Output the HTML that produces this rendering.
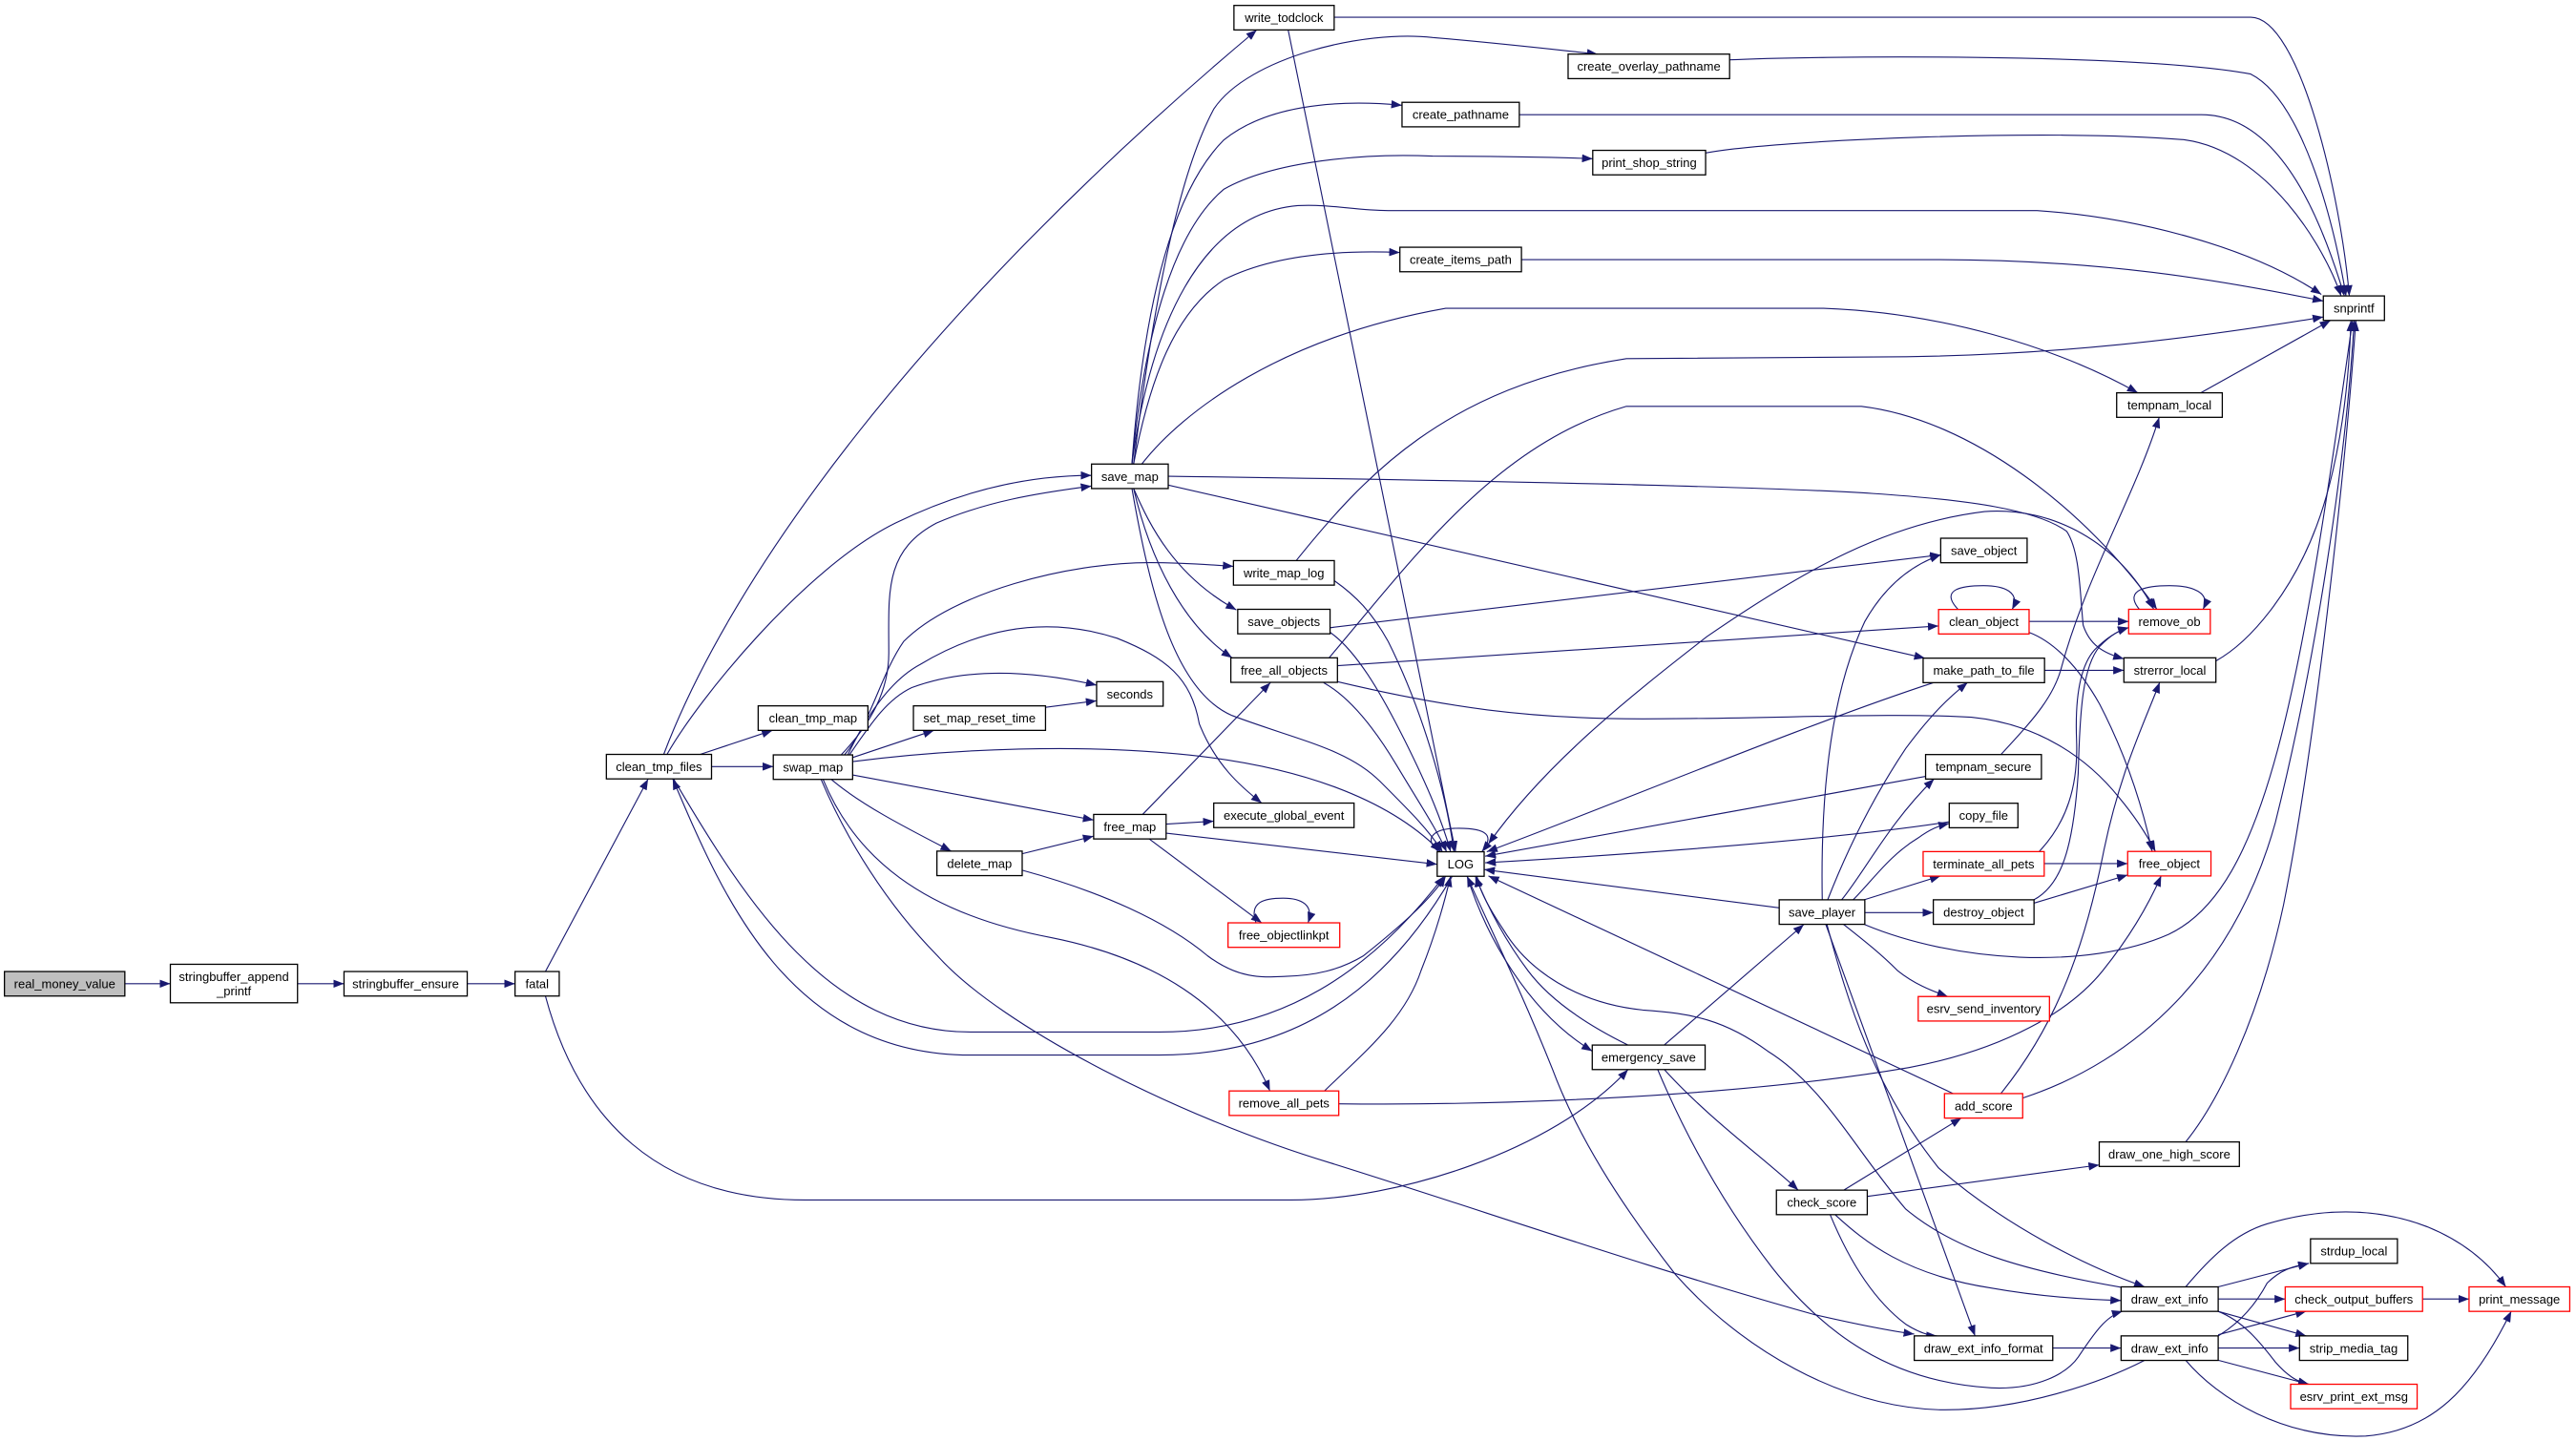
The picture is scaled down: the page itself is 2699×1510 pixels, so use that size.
<!DOCTYPE html>
<html><head><meta charset="utf-8"><style>
html,body{margin:0;padding:0;background:#fff;}
svg{display:block;}
.e{fill:none;stroke:#191970;stroke-width:0.65;}
.n rect{fill:#fff;stroke:#000;stroke-width:0.75;}
.n.r rect{stroke:#ff0000;}
.n.g rect{fill:#bfbfbf;}
text{font-family:"Liberation Sans",Arial,sans-serif;font-size:7.55px;fill:#000;text-anchor:middle;}
</style></head><body>
<svg width="2699" height="1510" viewBox="0 0 1568 876" preserveAspectRatio="none" xmlns="http://www.w3.org/2000/svg">
<defs>
<marker id="a" markerWidth="6.5" markerHeight="5" refX="6.5" refY="2.5" orient="auto-start-reverse" markerUnits="userSpaceOnUse" viewBox="0 0 6.5 5"><path d="M0,0 L6.5,2.5 L0,5 z" fill="#191970"/></marker>
</defs>
<g class="edges" marker-end="url(#a)">
<path class="e" marker-end="url(#a)" d="M76,598 L103.7,598"/>
<path class="e" marker-end="url(#a)" d="M181.1,598 L209.4,598"/>
<path class="e" marker-end="url(#a)" d="M284.4,598 L313.5,598"/>
<path class="e" marker-end="url(#a)" d="M332,590.6 L394.5,473.6"/>
<path class="e" marker-end="url(#a)" d="M332,605.5 C352,680 400,729.5 490,729.5 L786,729.5 C850,729.5 945,700 991,650.2"/>
<path class="e" marker-end="url(#a)" d="M426.2,458.6 L470.2,444"/>
<path class="e" marker-end="url(#a)" d="M433.1,466 L470.7,466"/>
<path class="e" marker-end="url(#a)" d="M404,458.6 C445,350 560,190 765,18.2"/>
<path class="e" marker-end="url(#a)" d="M406,458.6 C425,425 490,345 545,318 C590,296 630,289 664.4,289"/>
<path class="e" marker-end="url(#a)" d="M410,473.5 C455,550 505,627.4 591,627.4 L705.5,627.4 C780,627.4 835,590 879,532.6"/>
<path class="e" marker-end="url(#a)" d="M884,532.6 C845,600 790,641.4 705.5,641.4 L591,641.4 C480,641.4 440,545 409.5,473.5"/>
<path class="e" marker-end="url(#a)" d="M512,458.9 C530,440 541,420 541,397 C541,360 538,335 570,318 C600,305 630,300 664.4,295.5"/>
<path class="e" marker-end="url(#a)" d="M514,458.9 C530,440 536,410 550,390 C580,360 650,342 700,342 C720,342 740,343.5 750.8,344.3"/>
<path class="e" marker-end="url(#a)" d="M516,458.9 C530,430 545,412 560,404 C600,380 640,375 680,388 C710,400 725,412 730,440 C740,465 755,478 768,488.2"/>
<path class="e" marker-end="url(#a)" d="M517,458.9 C530,440 540,425 555,418 C590,405 630,408 667.5,416.5"/>
<path class="e" marker-end="url(#a)" d="M519,460.5 L568.5,444"/>
<path class="e" marker-end="url(#a)" d="M636.4,430 L667.5,426"/>
<path class="e" marker-end="url(#a)" d="M519,463 C580,455 660,452 724,459 C790,466 845,485 877,517.8"/>
<path class="e" marker-end="url(#a)" d="M519,471.1 L665.7,498.5"/>
<path class="e" marker-end="url(#a)" d="M506,473.8 C525,490 555,505 579,517.4"/>
<path class="e" marker-end="url(#a)" d="M501,473.8 C520,520 560,555 640,570 C700,582 750,610 773,663.2"/>
<path class="e" marker-end="url(#a)" d="M499.8,473.8 C515,510 540,550 570.6,581 C610,625 720,680 810,707 C900,735 1000,770 1103.8,799 C1130,805 1150,809 1165.2,811"/>
<path class="e" marker-end="url(#a)" d="M690,282.1 C700,200 715,110 739,66 C760,35 830,18 872,22.8 C910,26 945,30 972.5,32.9"/>
<path class="e" marker-end="url(#a)" d="M689,282.1 C695,200 710,120 745,85 C770,65 810,60 853.4,64"/>
<path class="e" marker-end="url(#a)" d="M689,282.1 C697,200 715,140 745,115 C775,98 830,93 872,94.9 C910,95 945,95.5 969.5,96.5"/>
<path class="e" marker-end="url(#a)" d="M689,282.1 C700,200 730,130 790,125 C810,124 825,128 845,128 L1240,128 C1300,132 1370,150 1413,179"/>
<path class="e" marker-end="url(#a)" d="M690,282.1 C700,230 715,190 745,170 C775,155 815,152 852.1,153.5"/>
<path class="e" marker-end="url(#a)" d="M695,282.1 C720,250 780,205 880,187.4 L1110,187.4 C1180,190 1250,210 1301.3,238.8"/>
<path class="e" marker-end="url(#a)" d="M711.1,289.5 C900,292 1080,296 1140,300 C1200,304 1240,310 1258,323 C1266,335 1266,360 1268,380 C1272,392 1280,397 1292.8,400.5"/>
<path class="e" marker-end="url(#a)" d="M690,296.9 C700,320 715,350 752.6,370.8"/>
<path class="e" marker-end="url(#a)" d="M690,296.9 C700,340 720,380 750,399.9"/>
<path class="e" marker-end="url(#a)" d="M689,296.9 C700,360 715,420 750,435 C790,450 820,455 840,475 C860,495 870,505 878,517.8"/>
<path class="e" marker-end="url(#a)" d="M711.1,294.9 L1171.7,400.1"/>
<path class="e" marker-end="url(#a)" d="M812.1,10.5 L1370,10.5 C1400,10.5 1425,120 1430,179.9"/>
<path class="e" marker-end="url(#a)" d="M784.1,18.2 L886,517.8"/>
<path class="e" marker-end="url(#a)" d="M1052.8,36.4 C1100,34 1300,32 1370,45 C1400,60 1420,130 1428,179.9"/>
<path class="e" marker-end="url(#a)" d="M924.8,69.7 L1340,69.7 C1390,69.7 1415,140 1427,179.9"/>
<path class="e" marker-end="url(#a)" d="M1038.2,93 C1080,85 1250,78 1330,85 C1380,92 1415,150 1425,179.9"/>
<path class="e" marker-end="url(#a)" d="M926.1,157.8 L1180,157.8 C1280,158 1350,170 1414.2,183"/>
<path class="e" marker-end="url(#a)" d="M789,340.8 C830,290 880,235 990,218 L1140,217 C1250,217 1340,205 1414.2,192.7"/>
<path class="e" marker-end="url(#a)" d="M1339.6,238.8 L1418.6,194.8"/>
<path class="e" marker-end="url(#a)" d="M1348.8,401.8 C1370,390 1395,360 1410,320 C1425,280 1430,230 1431,194.8"/>
<path class="e" marker-end="url(#a)" d="M1231.2,667.5 C1300,645 1360,590 1385,500 C1410,400 1428,280 1433,194.8"/>
<path class="e" marker-end="url(#a)" d="M1330.4,694.2 C1350,670 1375,620 1390,550 C1410,450 1428,280 1434,194.8"/>
<path class="e" marker-end="url(#a)" d="M1134.9,562 C1190,585 1270,590 1320,568 C1380,540 1400,420 1432,194.8"/>
<path class="e" marker-end="url(#a)" d="M812.2,353 C825,362 835,372 845,390 C865,430 880,480 885,517.8"/>
<path class="e" marker-end="url(#a)" d="M809.6,384.4 C825,395 840,420 855,450 C870,480 878,500 883,517.8"/>
<path class="e" marker-end="url(#a)" d="M805.7,415 C820,423 835,440 850,465 C865,490 875,505 880.5,517.8"/>
<path class="e" marker-end="url(#a)" d="M809.6,381.6 L1181.3,337.3"/>
<path class="e" marker-end="url(#a)" d="M814.1,404.7 L1180,380.5"/>
<path class="e" marker-end="url(#a)" d="M814.1,414.4 C880,430 930,437 1000,437 C1080,437 1150,433 1200,436 C1240,440 1270,460 1290,485 C1300,497 1307,508 1312,517.6"/>
<path class="e" marker-end="url(#a)" d="M809,399.9 C860,340 910,270 990,247 L1133,247 C1200,255 1270,310 1312.9,370.4"/>
<path class="e" marker-end="url(#a)" d="M695.5,495.1 L773.3,415"/>
<path class="e" marker-end="url(#a)" d="M709.8,501 L738.8,499.2"/>
<path class="e" marker-end="url(#a)" d="M709.8,506.5 L874.8,525.4"/>
<path class="e" marker-end="url(#a)" d="M699.5,510 L768,561"/>
<path class="e" marker-end="url(#a)" d="M764.5,561 C760,548 770,546 781,546 C792,546 800,550 796.2,561"/>
<path class="e" marker-end="url(#a)" d="M622.2,519 L665.7,508.3"/>
<path class="e" marker-end="url(#a)" d="M622.2,529 C670,542 710,560 735,581 C755,596 770,594 783,593.5 C800,593 815,590 830,581 C850,565 870,548 880,532.6"/>
<path class="e" marker-end="url(#a)" d="M806.2,663.2 C830,640 855,620 865,590 C875,565 880,545 883,532.6"/>
<path class="e" marker-end="url(#a)" d="M814.9,671 C900,672 1050,668 1162,649 C1220,638 1260,615 1280,590 C1300,565 1310,545 1315.5,532.4"/>
<path class="e" marker-end="url(#a)" d="M1013,635.3 L1098,562"/>
<path class="e" marker-end="url(#a)" d="M893,532.6 C905,570 930,615 969.2,639"/>
<path class="e" marker-end="url(#a)" d="M991,635.3 C970,625 945,610 930,590 C915,570 905,550 898,532.6"/>
<path class="e" marker-end="url(#a)" d="M1013,650.1 C1040,680 1075,705 1094.6,723.5"/>
<path class="e" marker-end="url(#a)" d="M1009,650.1 C1030,700 1055,740 1079,771 C1110,810 1150,840 1212,843.7 C1240,845 1258,835 1265,825 C1275,810 1282,800 1292,797.1"/>
<path class="e" marker-end="url(#a)" d="M1292,782.7 C1230,772 1190,760 1160,735 C1130,700 1110,660 1076,639 C1050,620 1030,616 1000,614 C960,610 930,590 915,565 C905,550 900,540 899,532.6"/>
<path class="e" marker-end="url(#a)" d="M1117,738.4 C1135,755 1160,775 1212,783 C1240,788 1270,790 1291.1,790.6"/>
<path class="e" marker-end="url(#a)" d="M1114,738.4 C1125,765 1140,790 1160,805 C1168,810 1174,812 1179,812.1"/>
<path class="e" marker-end="url(#a)" d="M1122.3,723.5 L1193.9,679.6"/>
<path class="e" marker-end="url(#a)" d="M1136.6,727.3 L1277.8,708.2"/>
<path class="e" marker-end="url(#a)" d="M1217.9,664.8 C1250,625 1268,580 1280,520 C1290,470 1305,440 1314.6,414.8"/>
<path class="e" marker-end="url(#a)" d="M1188.9,664.8 L906,532.5"/>
<path class="e" marker-end="url(#a)" d="M1083,551.9 L903.4,528.6"/>
<path class="e" marker-end="url(#a)" d="M1135.1,554.8 L1176.8,554.8"/>
<path class="e" marker-end="url(#a)" d="M1134.7,547 L1181.2,532.5"/>
<path class="e" marker-end="url(#a)" d="M1122,561.8 C1135,572 1145,580 1155,590 C1165,598 1175,602 1185.6,605.8"/>
<path class="e" marker-end="url(#a)" d="M1111.3,561.8 L1202.2,812.1"/>
<path class="e" marker-end="url(#a)" d="M1112,561.8 C1125,610 1140,660 1180,710 C1220,745 1270,770 1305.5,782.3"/>
<path class="e" marker-end="url(#a)" d="M1109.2,547 C1108,480 1115,420 1135,378 C1148,355 1165,343 1181.3,337.3"/>
<path class="e" marker-end="url(#a)" d="M1112.5,547 C1125,515 1140,485 1160,455 C1175,435 1185,425 1197.7,414.9"/>
<path class="e" marker-end="url(#a)" d="M1121,547 C1135,530 1150,500 1177.3,473.5"/>
<path class="e" marker-end="url(#a)" d="M1128,547 C1140,535 1150,520 1167.7,509.3 C1175,504 1180,502 1186.5,500.6"/>
<path class="e" marker-end="url(#a)" d="M1172.1,472 L904,520.5"/>
<path class="e" marker-end="url(#a)" d="M1218,458.7 C1235,440 1250,425 1255,405 C1270,350 1300,300 1314.3,253.7"/>
<path class="e" marker-end="url(#a)" d="M1186.5,499.6 C1120,510 1000,519 904,524.5"/>
<path class="e" marker-end="url(#a)" d="M1177.2,414.9 C1100,440 980,490 905,517.8"/>
<path class="e" marker-end="url(#a)" d="M1244.5,407.5 L1292.8,407.5"/>
<path class="e" marker-end="url(#a)" d="M1244.3,525 L1295.1,525"/>
<path class="e" marker-end="url(#a)" d="M1241.2,517.7 C1258,500 1265,478 1264,450 C1263,425 1266,405 1275,395 C1282,388 1288,384 1295.7,381.5"/>
<path class="e" marker-end="url(#a)" d="M1238,547 C1255,538 1262,515 1265,470 C1266,430 1268,405 1278,393 C1285,386 1290,383 1295.7,381.5"/>
<path class="e" marker-end="url(#a)" d="M1238.2,549 L1295.1,531.9"/>
<path class="e" marker-end="url(#a)" d="M1235,377.8 L1295.7,377.8"/>
<path class="e" marker-end="url(#a)" d="M1235,384.4 C1250,390 1265,405 1278,428 C1292,455 1303,485 1310,517.6"/>
<path class="e" marker-end="url(#a)" d="M1191.9,370.5 C1180,358 1195,356 1207.3,356 C1220,356 1230,360 1224.8,370.5"/>
<path class="e" marker-end="url(#a)" d="M1302.2,370.4 C1292,358 1308,356 1320.6,356 C1334,356 1346,360 1341,370.4"/>
<path class="e" marker-start="url(#a)" marker-end="url(#a)" d="M906,513 C940,465 990,425 1039,387 C1100,345 1150,318 1208,311 C1250,308 1290,330 1311,370.4"/>
<path class="e" marker-end="url(#a)" d="M876,518 C866,510 872,503.5 888,503.5 C905,503.5 910,508 902,517.8"/>
<path class="e" marker-end="url(#a)" d="M1350.2,782.3 L1405.4,768"/>
<path class="e" marker-end="url(#a)" d="M1350.2,789.7 L1391,789.7"/>
<path class="e" marker-end="url(#a)" d="M1330.4,782.3 C1345,765 1360,750 1380,744 C1410,735 1445,733 1478,746 C1500,755 1515,768 1525.3,782.3"/>
<path class="e" marker-end="url(#a)" d="M1350.2,797.2 L1403.8,812.1"/>
<path class="e" marker-end="url(#a)" d="M1350.2,797.2 C1365,803 1375,815 1385,828 C1392,836 1398,840 1405.4,841.5"/>
<path class="e" marker-end="url(#a)" d="M1350.2,812.1 C1362,805 1372,795 1380,780 C1388,772 1395,770 1405.4,768"/>
<path class="e" marker-end="url(#a)" d="M1350.2,811.4 L1403.8,797.1"/>
<path class="e" marker-end="url(#a)" d="M1350.2,819.5 L1399.7,819.5"/>
<path class="e" marker-end="url(#a)" d="M1350.2,826.9 L1405.4,841.5"/>
<path class="e" marker-end="url(#a)" d="M1330.4,826.9 C1350,850 1390,875 1440,873 C1480,870 1505,845 1528.6,797.1"/>
<path class="e" marker-end="url(#a)" d="M1305.5,826.9 C1280,840 1230,858 1180,857 C1120,855 1060,820 1020,775 C985,730 960,690 945,650 C925,600 905,560 893,532.6"/>
<path class="e" marker-end="url(#a)" d="M1249.5,819.5 L1291.1,819.5"/>
<path class="e" marker-end="url(#a)" d="M1474.6,789.7 L1502.9,789.7"/>
</g>
<g class="nodes">
<g class="n g"><rect x="2.7" y="590.6" width="73.3" height="14.9"/><text x="39.35" y="600.75">real_money_value</text></g>
<g class="n"><rect x="103.7" y="586.2" width="77.4" height="23.4"/><text x="142.4" y="596.3">stringbuffer_append</text><text x="142.4" y="605">_printf</text></g>
<g class="n"><rect x="209.4" y="590.6" width="75" height="14.9"/><text x="246.9" y="600.75">stringbuffer_ensure</text></g>
<g class="n"><rect x="313.5" y="590.6" width="26.9" height="14.9"/><text x="326.95" y="600.75">fatal</text></g>
<g class="n"><rect x="369.1" y="458.6" width="64" height="14.9"/><text x="401.1" y="468.75">clean_tmp_files</text></g>
<g class="n"><rect x="461.5" y="429.1" width="66.8" height="14.9"/><text x="494.9" y="439.25">clean_tmp_map</text></g>
<g class="n"><rect x="470.7" y="458.9" width="48.3" height="14.9"/><text x="494.85" y="469.05">swap_map</text></g>
<g class="n"><rect x="556" y="429.1" width="80.4" height="14.9"/><text x="596.2" y="439.25">set_map_reset_time</text></g>
<g class="n"><rect x="667.5" y="414.4" width="40.5" height="14.9"/><text x="687.75" y="424.55">seconds</text></g>
<g class="n"><rect x="664.4" y="282.1" width="46.7" height="14.9"/><text x="687.75" y="292.25">save_map</text></g>
<g class="n"><rect x="751.1" y="3.3" width="61" height="14.9"/><text x="781.6" y="13.45">write_todclock</text></g>
<g class="n"><rect x="954.5" y="32.9" width="98.3" height="14.9"/><text x="1003.65" y="43.05">create_overlay_pathname</text></g>
<g class="n"><rect x="853.4" y="62.2" width="71.4" height="14.9"/><text x="889.1" y="72.35">create_pathname</text></g>
<g class="n"><rect x="969.5" y="91.4" width="68.7" height="14.9"/><text x="1003.85" y="101.55">print_shop_string</text></g>
<g class="n"><rect x="852.1" y="150.3" width="74" height="14.9"/><text x="889.1" y="160.45">create_items_path</text></g>
<g class="n"><rect x="750.8" y="340.8" width="61.4" height="14.9"/><text x="781.5" y="350.95">write_map_log</text></g>
<g class="n"><rect x="753.4" y="370.4" width="56.2" height="14.9"/><text x="781.5" y="380.55">save_objects</text></g>
<g class="n"><rect x="749.2" y="399.9" width="64.9" height="14.9"/><text x="781.65" y="410.05">free_all_objects</text></g>
<g class="n"><rect x="665.7" y="495.1" width="44.1" height="14.9"/><text x="687.75" y="505.25">free_map</text></g>
<g class="n"><rect x="738.8" y="488.2" width="85.4" height="14.9"/><text x="781.5" y="498.35">execute_global_event</text></g>
<g class="n"><rect x="570.3" y="517.4" width="51.9" height="14.9"/><text x="596.25" y="527.55">delete_map</text></g>
<g class="n"><rect x="874.8" y="517.8" width="28.6" height="14.9"/><text x="889.1" y="527.95">LOG</text></g>
<g class="n r"><rect x="747.5" y="561" width="68" height="14.9"/><text x="781.5" y="571.15">free_objectlinkpt</text></g>
<g class="n r"><rect x="748.2" y="663.2" width="66.7" height="14.9"/><text x="781.55" y="673.35">remove_all_pets</text></g>
<g class="n"><rect x="969.2" y="635.3" width="68.7" height="14.9"/><text x="1003.55" y="645.45">emergency_save</text></g>
<g class="n"><rect x="1414.2" y="179.9" width="37.2" height="14.9"/><text x="1432.8" y="190.05">snprintf</text></g>
<g class="n"><rect x="1288.4" y="238.8" width="64.3" height="14.9"/><text x="1320.55" y="248.95">tempnam_local</text></g>
<g class="n"><rect x="1181.3" y="327.2" width="52.6" height="14.9"/><text x="1207.6" y="337.35">save_object</text></g>
<g class="n r"><rect x="1180" y="370.5" width="55.1" height="14.9"/><text x="1207.55" y="380.65">clean_object</text></g>
<g class="n r"><rect x="1295.7" y="370.4" width="49.7" height="14.9"/><text x="1320.55" y="380.55">remove_ob</text></g>
<g class="n"><rect x="1170.6" y="400.1" width="73.9" height="14.9"/><text x="1207.55" y="410.25">make_path_to_file</text></g>
<g class="n"><rect x="1292.8" y="399.9" width="56" height="14.9"/><text x="1320.8" y="410.05">strerror_local</text></g>
<g class="n"><rect x="1172.1" y="458.7" width="70.5" height="14.9"/><text x="1207.35" y="468.85">tempnam_secure</text></g>
<g class="n"><rect x="1186.5" y="488.3" width="41.8" height="14.9"/><text x="1207.4" y="498.45">copy_file</text></g>
<g class="n r"><rect x="1170.6" y="517.7" width="73.7" height="14.9"/><text x="1207.45" y="527.85">terminate_all_pets</text></g>
<g class="n r"><rect x="1295.1" y="517.6" width="50.7" height="14.9"/><text x="1320.45" y="527.75">free_object</text></g>
<g class="n"><rect x="1083" y="547" width="52.1" height="14.9"/><text x="1109.05" y="557.15">save_player</text></g>
<g class="n"><rect x="1176.8" y="547" width="61.3" height="14.9"/><text x="1207.45" y="557.15">destroy_object</text></g>
<g class="n r"><rect x="1167.6" y="605.8" width="79.9" height="14.9"/><text x="1207.55" y="615.95">esrv_send_inventory</text></g>
<g class="n r"><rect x="1183.6" y="664.8" width="47.6" height="14.9"/><text x="1207.4" y="674.95">add_score</text></g>
<g class="n"><rect x="1277.8" y="694.2" width="85.3" height="14.9"/><text x="1320.45" y="704.35">draw_one_high_score</text></g>
<g class="n"><rect x="1081.3" y="723.5" width="55.3" height="14.9"/><text x="1108.95" y="733.65">check_score</text></g>
<g class="n"><rect x="1406.4" y="753.1" width="52.9" height="14.9"/><text x="1432.85" y="763.25">strdup_local</text></g>
<g class="n"><rect x="1291.1" y="782.3" width="59.1" height="14.9"/><text x="1320.65" y="792.45">draw_ext_info</text></g>
<g class="n r"><rect x="1391" y="782.3" width="83.6" height="14.9"/><text x="1432.8" y="792.45">check_output_buffers</text></g>
<g class="n r"><rect x="1502.9" y="782.3" width="61.3" height="14.9"/><text x="1533.55" y="792.45">print_message</text></g>
<g class="n"><rect x="1165.2" y="812.1" width="84.3" height="14.9"/><text x="1207.35" y="822.25">draw_ext_info_format</text></g>
<g class="n"><rect x="1291.1" y="812.1" width="59.1" height="14.9"/><text x="1320.65" y="822.25">draw_ext_info</text></g>
<g class="n"><rect x="1399.7" y="812.1" width="65.9" height="14.9"/><text x="1432.65" y="822.25">strip_media_tag</text></g>
<g class="n r"><rect x="1394.3" y="841.5" width="77" height="14.9"/><text x="1432.8" y="851.65">esrv_print_ext_msg</text></g>
</g>
</svg>
</body></html>
